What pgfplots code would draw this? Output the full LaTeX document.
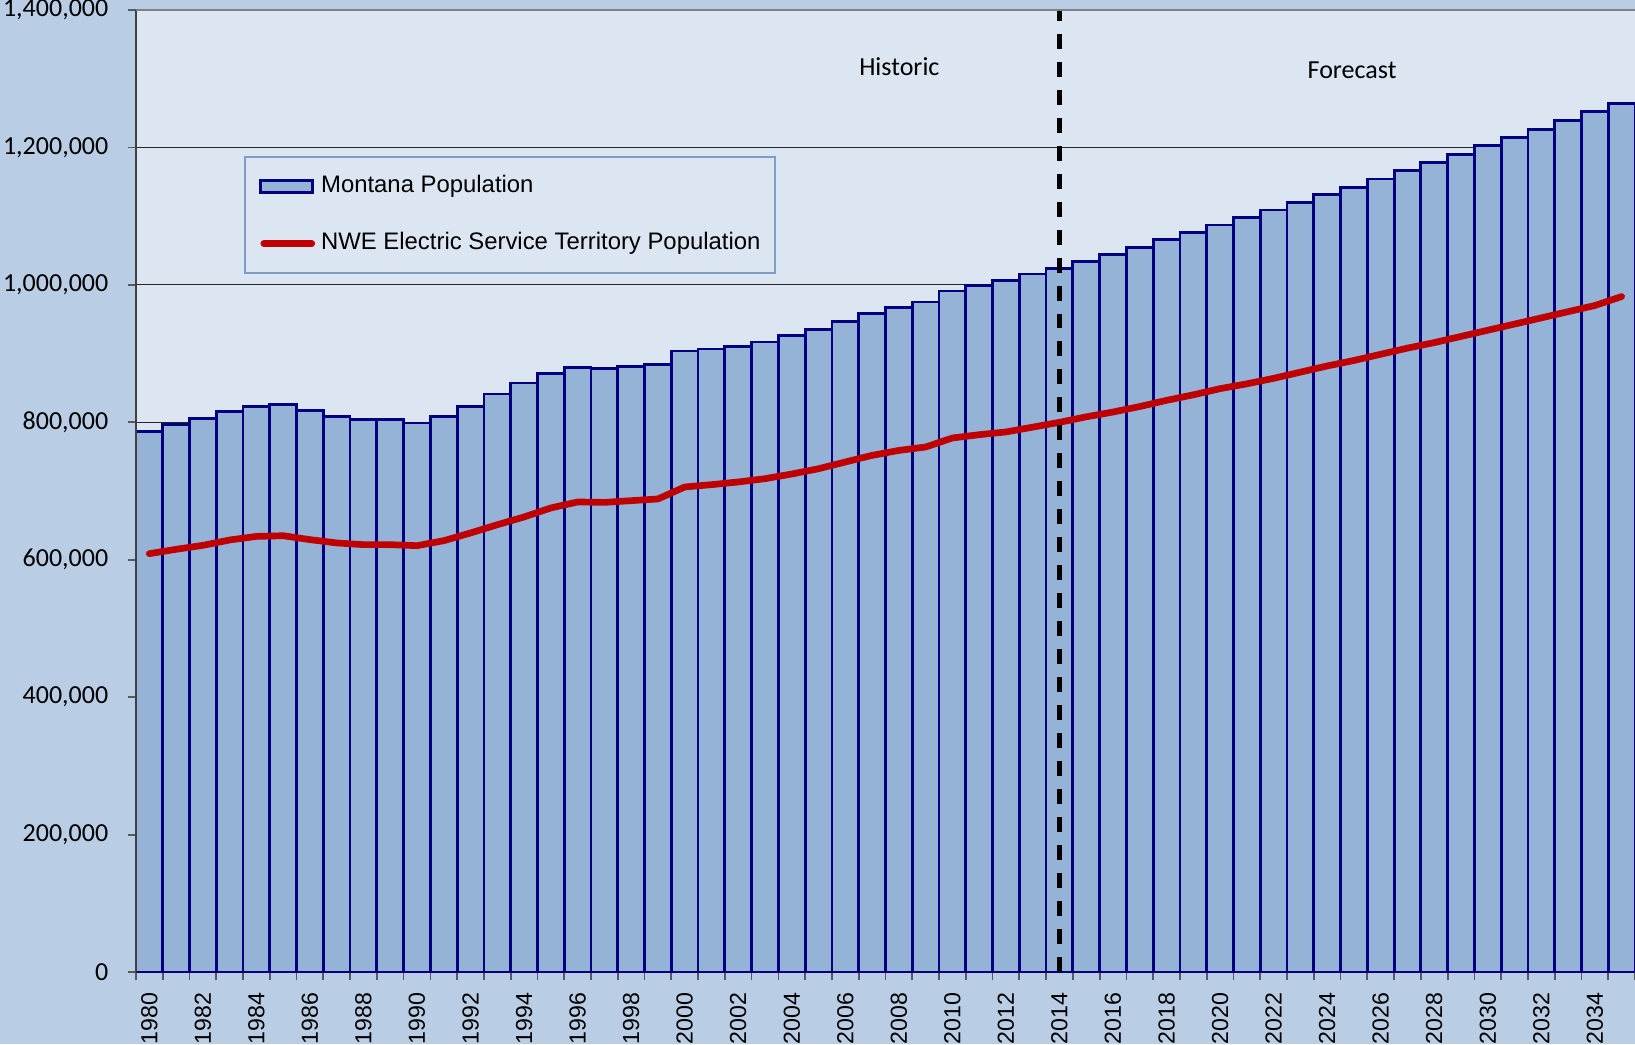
\documentclass[border=0pt]{standalone}
\usepackage{fontspec}
\usepackage{pgfplots}
\usepackage{pgfplotstable}
\pgfplotsset{compat=1.18}
\usetikzlibrary{backgrounds}
\newfontfamily\carlito{Carlito}
\newfontfamily\libsans{Liberation Sans}
\definecolor{outerbg}{HTML}{B9CDE5}
\definecolor{plotbg}{HTML}{DCE6F2}
\definecolor{barfill}{HTML}{95B3D7}
\definecolor{barline}{HTML}{000080}
\definecolor{nwered}{HTML}{C00000}
\definecolor{legline}{HTML}{7F9DC9}

% Montana population and NWE service territory population, 1980-2035
\pgfplotstableread{
year montana nwe
1980 786800 608900
1981 796500 615200
1982 805200 621000
1983 815900 628800
1984 823100 634000
1985 825600 635000
1986 817300 629300
1987 808600 624500
1988 804200 622000
1989 804200 622000
1990 799000 620500
1991 808200 627800
1992 823100 639000
1993 841200 651000
1994 857200 662300
1995 870700 675400
1996 879800 684100
1997 878400 683500
1998 880900 686000
1999 883800 688500
2000 903700 705900
2001 906600 709300
2002 910000 713200
2003 916800 718000
2004 926400 724800
2005 934700 732500
2006 946800 742300
2007 958000 751900
2008 967000 759100
2009 975000 764100
2010 991000 777200
2011 999000 782000
2012 1006000 786000
2013 1015700 793000
2014 1023400 800000
2015 1034000 808000
2016 1044200 815000
2017 1054900 823000
2018 1066000 832000
2019 1076000 840000
2020 1087000 849000
2021 1098000 856000
2022 1109000 864000
2023 1120000 873000
2024 1131000 882000
2025 1142000 890000
2026 1154000 899000
2027 1166000 908000
2028 1178000 916000
2029 1190000 925000
2030 1202700 934000
2031 1214300 943000
2032 1226500 952000
2033 1239000 961000
2034 1251700 970000
2035 1264400 983000
}\popdata

\begin{document}
\begin{tikzpicture}
\begin{axis}[
  name=ax,
  scale only axis,
  width=150mm, height=96.27mm,
  xmin=1979.5, xmax=2035.5,
  ymin=0, ymax=1400000,
  axis background/.style={fill=plotbg},
  separate axis lines,
  axis line style={draw=none},
  xtick={1980,1982,...,2034},
  minor xtick={1979.5,1980.5,...,2035.5},
  ytick={0,200000,...,1400000},
  minor ytick={0,200000,...,1400000},
  xtick pos=bottom, ytick pos=left,
  tick align=outside,
  major tick length=0pt,
  minor tick length=0.8mm,
  minor tick style={black!65, line width=0.5pt},
  ymajorgrids,
  grid style={black!85, line width=0.35pt},
  scaled y ticks=false,
  xticklabel style={font=\libsans\fontsize{6.6}{7}\selectfont,
    /pgf/number format/1000 sep={}, /pgf/number format/assume math mode=true,
    inner sep=0pt, yshift=-2mm, rotate=90, anchor=east},
  yticklabel style={font=\carlito\fontsize{7.4}{8}\selectfont,
    /pgf/number format/fixed, /pgf/number format/1000 sep={,},
    /pgf/number format/assume math mode=true,
    inner sep=0pt, xshift=-2.7mm},
  legend style={at={(0.072,0.8484)}, anchor=north west,
    draw=legline, line width=0.6pt, fill=plotbg,
    font=\libsans\fontsize{6.8}{8}\selectfont,
    inner xsep=1.45mm, inner ysep=1.85mm,
    row sep=3.45mm, column sep=0.6mm,
    nodes={inner sep=0pt, text height=1.75mm, text depth=0.5mm}},
  legend cell align=left,
]
\addplot[ybar, bar width=1, bar shift=0pt, fill=barfill, draw=barline, line width=0.8pt,
  legend image code/.code={\draw[fill=barfill, draw=barline, line width=0.8pt] (0mm,-0.6mm) rectangle (5.2mm,0.6mm);}]
  table[x=year, y=montana] {\popdata};
\addlegendentry{Montana Population}
\addplot[nwered, line width=1.9pt, line join=round, line cap=round, mark=none,
  legend image code/.code={\draw[nwered, line width=1.9pt, line cap=round] (0.3mm,0) -- (5.1mm,0);}]
  table[x=year, y=nwe] {\popdata};
\addlegendentry{NWE Electric Service Territory Population}

% historic / forecast split
\draw[black, line width=1.3pt, dash pattern=on 1.5mm off 1.3mm] (axis cs:2014,0) -- (axis cs:2014,1400000);
\node[font=\carlito\fontsize{7.4}{8}\selectfont, inner sep=0pt] at (axis cs:2008.02,1317600) {Historic};
\node[font=\carlito\fontsize{7.4}{8}\selectfont, inner sep=0pt] at (axis cs:2024.93,1312800) {Forecast};
\end{axis}
\draw[black!75, line width=0.6pt] (ax.south west) -- (ax.north west);
\draw[black!50, line width=0.6pt] (ax.north west) -- (ax.north east);
\coordinate (bbsw) at ([xshift=-13.6mm,yshift=-7.23mm]ax.south west);
\coordinate (bbne) at ([yshift=1mm]ax.north east);
\pgfresetboundingbox
\path (bbsw) rectangle (bbne);
\begin{scope}[on background layer]
\fill[outerbg] (bbsw) rectangle (bbne);
\end{scope}
\end{tikzpicture}
\end{document}
